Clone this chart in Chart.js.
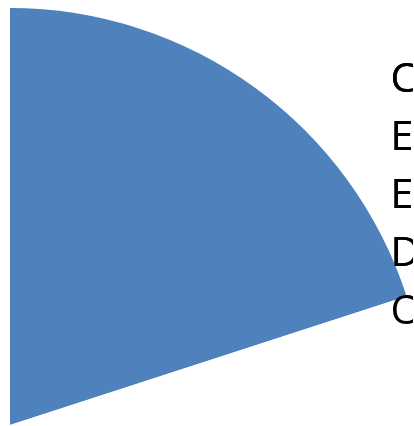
<!DOCTYPE html>
<html>
<head>
<meta charset="utf-8">
<script src="https://cdn.jsdelivr.net/npm/chart.js@4/dist/chart.umd.min.js"></script>
<style>
  html, body { margin: 0; padding: 0; background: #fff; overflow: hidden; }
  body { width: 414px; height: 426px; position: relative; }
  #chart { position: absolute; left: -333px; top: 0; }
</style>
</head>
<body>
<canvas id="chart" width="746" height="807"></canvas>
<script>
// legend labels are cut off at the right edge of the picture
const categories = ["C", "Ex", "Ev", "D", "O"];
const values = [20, 22, 20, 20, 18];
const sliceColors = ["#4F81BD", "#FFFFFF", "#FFFFFF", "#FFFFFF", "#FFFFFF"];

// legend text sits on top of the pie
const legendOnTop = {
  id: "legendOnTop",
  afterDatasetsDraw(chart) {
    chart.legend.draw();
  },
};

const ctx = document.getElementById("chart").getContext("2d");
const pieChart = new Chart(ctx, {
  type: "pie",
  data: {
    labels: categories,
    datasets: [
      {
        data: values,
        backgroundColor: sliceColors,
        borderWidth: 0,
        radius: 417,
        clip: false,
      },
    ],
  },
  options: {
    responsive: false,
    animation: false,
    layout: { padding: { top: 43 } },
    plugins: {
      tooltip: { enabled: false },
      legend: {
        position: "right",
        align: "start",
        maxWidth: 60,
        labels: {
          boxWidth: 0,
          boxHeight: 0,
          padding: 17,
          color: "#000",
          font: { family: "'Open Sans', sans-serif", size: 41 },
        },
      },
    },
  },
  plugins: [legendOnTop],
});
</script>
</body>
</html>
